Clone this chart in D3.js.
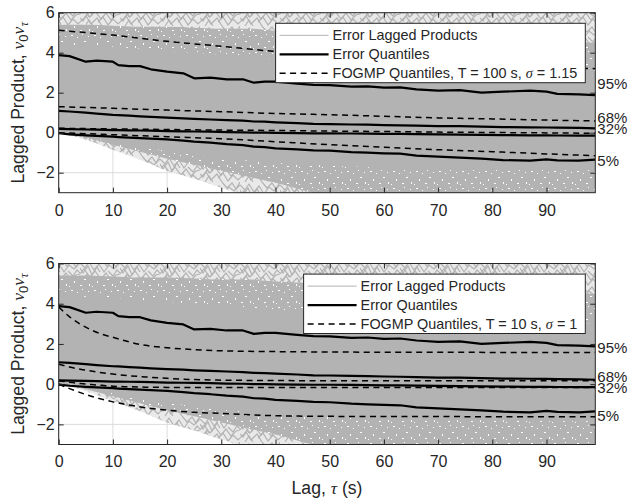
<!DOCTYPE html>
<html>
<head>
<meta charset="utf-8">
<script src="https://cdn.jsdelivr.net/npm/d3@7"></script>
<style>
  body { margin: 0; background: #fff; }
  text { font-family: "Liberation Sans", Arial, Helvetica, sans-serif; fill: #262626; }
  .greek { font-family: "Liberation Serif", "Times New Roman", serif; font-style: italic; }
</style>
</head>
<body>
<svg id="chart" width="629" height="499"></svg>
<script>
// x ticks / y ticks
const xTicks = [0, 10, 20, 30, 40, 50, 60, 70, 80, 90];
const yTicks = [-2, 0, 2, 4, 6];

// error quantiles (same for both panels)
const qLags = [0, 2, 5, 7, 10, 11, 13, 15, 17, 20, 23, 25, 28, 31, 34, 36, 38, 40, 44, 47, 50, 54, 57, 60, 63, 66, 70, 74, 78, 82, 87, 90, 92, 96, 99];
const q95 = [3.88, 3.83, 3.55, 3.60, 3.55, 3.38, 3.33, 3.33, 3.17, 3.05, 2.97, 2.72, 2.75, 2.67, 2.67, 2.50, 2.55, 2.55, 2.45, 2.39, 2.38, 2.30, 2.32, 2.25, 2.27, 2.17, 2.10, 2.13, 2.00, 2.05, 2.10, 2.05, 1.94, 1.92, 1.88];
const q68 = [1.09, 1.06, 1.00, 0.95, 0.89, 0.88, 0.85, 0.82, 0.79, 0.75, 0.72, 0.69, 0.66, 0.63, 0.60, 0.56, 0.55, 0.52, 0.48, 0.44, 0.43, 0.41, 0.40, 0.38, 0.37, 0.35, 0.33, 0.33, 0.30, 0.28, 0.27, 0.26, 0.25, 0.24, 0.22];
const q32 = [0.19, 0.18, 0.16, 0.15, 0.13, 0.13, 0.12, 0.11, 0.10, 0.08, 0.07, 0.06, 0.05, 0.03, 0.02, 0.00, 0.00, -0.01, -0.02, -0.03, -0.03, -0.04, -0.05, -0.06, -0.06, -0.07, -0.08, -0.10, -0.11, -0.12, -0.13, -0.13, -0.14, -0.15, -0.15];
const q05 = [-0.02, -0.08, -0.13, -0.16, -0.20, -0.22, -0.25, -0.27, -0.30, -0.33, -0.40, -0.45, -0.50, -0.57, -0.62, -0.70, -0.72, -0.78, -0.83, -0.88, -0.90, -0.97, -1.00, -1.03, -1.05, -1.15, -1.20, -1.25, -1.30, -1.37, -1.40, -1.33, -1.38, -1.40, -1.35];

// FOGMP quantiles, T = 100 s, sigma = 1.15
const fLagsA = [0, 10, 20, 30, 40, 50, 60, 70, 80, 90, 99];
const fA95 = [5.12, 4.88, 4.57, 4.32, 4.06, 3.85, 3.68, 3.52, 3.40, 3.28, 3.20];
const fA68 = [1.30, 1.22, 1.13, 1.05, 0.96, 0.90, 0.82, 0.74, 0.69, 0.63, 0.59];
const fA32 = [0.22, 0.19, 0.16, 0.13, 0.11, 0.08, 0.06, 0.03, 0.01, -0.01, -0.03];
const fA05 = [0.00, -0.10, -0.20, -0.30, -0.45, -0.60, -0.73, -0.85, -0.95, -1.06, -1.15];

// FOGMP quantiles, T = 10 s, sigma = 1
const fLagsB = [0, 2, 4, 6, 8, 10, 13, 16, 20, 25, 30, 40, 50, 60, 70, 80, 90, 99];
const fB95 = [3.84, 3.35, 2.98, 2.70, 2.48, 2.33, 2.10, 1.93, 1.81, 1.72, 1.66, 1.62, 1.60, 1.59, 1.59, 1.58, 1.58, 1.58];
const fB68 = [0.99, 0.85, 0.74, 0.65, 0.57, 0.50, 0.42, 0.36, 0.29, 0.23, 0.20, 0.18, 0.17, 0.17, 0.17, 0.17, 0.17, 0.17];
const fB32 = [0.17, 0.10, 0.03, -0.02, -0.06, -0.10, -0.13, -0.15, -0.16, -0.17, -0.17, -0.17, -0.17, -0.17, -0.17, -0.17, -0.17, -0.17];
const fB05 = [0.00, -0.22, -0.42, -0.60, -0.75, -0.88, -1.04, -1.17, -1.29, -1.40, -1.45, -1.57, -1.60, -1.61, -1.61, -1.62, -1.62, -1.62];

// spread of the error lagged products (envelopes of the grey mass)
const bandLags = [0, 5, 10, 15, 20, 25, 30, 35, 40, 50, 60, 70, 80, 90, 99];
const meshHigh = [6.2, 6.2, 6.2, 6.2, 6.2, 6.2, 6.2, 6.2, 6.2, 6.2, 6.2, 6.2, 6.2, 6.2, 6.2];
const meshLow = [0, -0.35, -0.85, -1.35, -1.9, -2.3, -2.75, -3.1, -3.1, -3.1, -3.1, -3.1, -3.1, -3.1, -3.1];
const speckHigh = [5.4, 5.4, 5.35, 5.3, 5.3, 5.25, 5.2, 5.2, 5.1, 5.0, 4.9, 4.8, 4.7, 4.6, 4.5];
const speckLow = [0, -0.25, -0.6, -0.95, -1.3, -1.6, -1.9, -2.2, -2.5, -3.1, -3.1, -3.1, -3.1, -3.1, -3.1];
const denseHigh = [4.4, 4.35, 4.3, 4.2, 4.1, 4.0, 3.9, 3.8, 3.7, 3.55, 3.4, 3.3, 3.2, 3.1, 3.0];
const denseLow = [0, -0.2, -0.45, -0.7, -0.9, -1.1, -1.25, -1.4, -1.5, -1.65, -1.75, -1.8, -1.8, -1.85, -1.85];

// right-hand quantile labels and where they sit (data units)
const pctLabels = ['95%', '68%', '32%', '5%'];
const pctAtA = [2.47, 0.75, 0.20, -1.37];
const pctAtB = [1.83, 0.40, -0.18, -1.54];

const svg = d3.select('#chart');
const axisColor = '#262626';
const lineGrey = '#b3b3b3';

// textures standing in for the tangle of thin grey traces
const defs = svg.append('defs');
const mesh = defs.append('pattern').attr('id', 'mesh')
    .attr('patternUnits', 'userSpaceOnUse').attr('width', 40).attr('height', 26);
mesh.append('rect').attr('width', 40).attr('height', 26).attr('fill', '#e9e9e9');
[
    'M0,3 L5,8 L9,2 L14,10 L19,4 L24,12 L29,5 L34,9 L40,3',
    'M0,14 L4,9 L10,17 L15,11 L21,19 L26,13 L31,20 L36,15 L40,14',
    'M0,22 L6,16 L11,24 L17,18 L22,26',
    'M22,0 L27,6 L32,1 L36,7 L40,0',
    'M0,8 L3,13 L8,6 L12,15 L17,7 L20,12',
    'M18,22 L23,17 L28,25 L33,19 L38,24 L40,22',
    'M28,11 L33,16 L37,10 L40,13',
    'M5,26 L9,20 L13,26',
    'M0,18 L3,21 L7,14 L9,17'
].forEach(d => mesh.append('path').attr('d', d).attr('fill', 'none').attr('stroke', lineGrey).attr('stroke-width', 1.2));
const speck = defs.append('pattern').attr('id', 'speck')
    .attr('patternUnits', 'userSpaceOnUse').attr('width', 23).attr('height', 17);
speck.append('rect').attr('width', 23).attr('height', 17).attr('fill', lineGrey);
[[2, 1, 2, 1], [8, 3, 1, 1], [5, 9, 1, 2], [15, 7, 2, 1], [0, 14, 1, 1], [19, 2, 1, 1], [11, 13, 2, 1], [20, 12, 1, 2], [13, 0, 1, 1]]
    .forEach(([x, y, w, h]) => speck.append('rect').attr('x', x).attr('y', y).attr('width', w).attr('height', h).attr('fill', '#fff'));

function drawPanel(p) {
    const x = d3.scaleLinear().domain([0, 99]).range([58.7, 595.3]);
    const y = d3.scaleLinear().domain([-3, 6]).range([p.bottom, p.top]);
    const [x0, x1] = x.range();

    const clipId = 'clip' + p.id;
    defs.append('clipPath').attr('id', clipId)
        .append('rect')
        .attr('x', x0).attr('y', p.top)
        .attr('width', x1 - x0).attr('height', p.bottom - p.top);

    const g = svg.append('g');

    // grid
    g.append('g').selectAll('line').data(xTicks).join('line')
        .attr('x1', d => x(d)).attr('x2', d => x(d))
        .attr('y1', p.top).attr('y2', p.bottom)
        .attr('stroke', '#dcdcdc').attr('stroke-width', 1);
    g.append('g').selectAll('line').data(yTicks).join('line')
        .attr('x1', x0).attr('x2', x1)
        .attr('y1', d => y(d)).attr('y2', d => y(d))
        .attr('stroke', '#dcdcdc').attr('stroke-width', 1);

    // grey mass of lagged products
    const plot = g.append('g').attr('clip-path', `url(#${clipId})`);
    const band = (lo, hi) => d3.area()
        .x((d, i) => x(bandLags[i]))
        .y0((d, i) => y(lo[i]))
        .y1((d, i) => y(hi[i]))
        .curve(d3.curveMonotoneX)(bandLags);
    plot.append('path').attr('d', band(meshLow, meshHigh)).attr('fill', 'url(#mesh)');
    plot.append('path').attr('d', band(speckLow, speckHigh)).attr('fill', 'url(#speck)');
    plot.append('path').attr('d', band(denseLow, denseHigh)).attr('fill', lineGrey);

    // FOGMP quantiles (dashed)
    const fline = d3.line()
        .x((d, i) => x(p.fLags[i]))
        .y(d => y(d))
        .curve(d3.curveMonotoneX);
    plot.append('g').selectAll('path').data(p.fog).join('path')
        .attr('d', d => fline(d))
        .attr('fill', 'none')
        .attr('stroke', '#000')
        .attr('stroke-width', 1.5)
        .attr('stroke-dasharray', '6,4.5');

    // error quantiles (solid)
    const qline = d3.line()
        .x((d, i) => x(qLags[i]))
        .y(d => y(d));
    plot.append('g').selectAll('path').data([q95, q68, q32, q05]).join('path')
        .attr('d', d => qline(d))
        .attr('fill', 'none')
        .attr('stroke', '#000')
        .attr('stroke-width', 2.2)
        .attr('stroke-linejoin', 'round');

    // axes
    const xAxis = d3.axisBottom(x).tickValues(xTicks).tickSizeInner(-5).tickSizeOuter(0).tickPadding(11.5);
    const yAxis = d3.axisLeft(y).tickValues(yTicks).tickSizeInner(-5).tickSizeOuter(0).tickPadding(4);
    const xTop = d3.axisTop(x).tickValues(xTicks).tickSizeInner(-5).tickSizeOuter(0).tickFormat('');
    const yRight = d3.axisRight(y).tickValues(yTicks).tickSizeInner(-5).tickSizeOuter(0).tickFormat('');

    const styleAxis = sel => {
        sel.select('.domain').remove();
        sel.selectAll('line').attr('stroke', axisColor);
        sel.selectAll('text').attr('fill', axisColor).style('font-size', '16px');
    };
    svg.append('g').attr('transform', `translate(0,${p.bottom})`).call(xAxis).call(styleAxis);
    svg.append('g').attr('transform', `translate(${x0},0)`).call(yAxis).call(styleAxis);
    svg.append('g').attr('transform', `translate(0,${p.top})`).call(xTop).call(styleAxis);
    svg.append('g').attr('transform', `translate(${x1},0)`).call(yRight).call(styleAxis);

    svg.append('rect')
        .attr('x', x0).attr('y', p.top)
        .attr('width', x1 - x0).attr('height', p.bottom - p.top)
        .attr('fill', 'none').attr('stroke', axisColor).attr('stroke-width', 1);

    // y label
    const yl = svg.append('text')
        .attr('transform', `translate(24,${(p.top + p.bottom) / 2}) rotate(-90)`)
        .attr('text-anchor', 'middle')
        .style('font-size', '17.6px');
    yl.append('tspan').text('Lagged Product, ');
    yl.append('tspan').attr('class', 'greek').text('ν');
    yl.append('tspan').attr('dy', 4).style('font-size', '13px').text('0');
    yl.append('tspan').attr('dy', -4).attr('class', 'greek').text('ν');
    yl.append('tspan').attr('dy', 4).attr('class', 'greek').style('font-size', '13px').text('τ');

    // quantile labels on the right
    svg.append('g').selectAll('text').data(pctLabels).join('text')
        .attr('x', x1 + 2)
        .attr('y', (d, i) => y(p.pctAt[i]))
        .attr('dy', '0.36em')
        .style('font-size', '15px')
        .text(d => d);

    // legend
    const lg = svg.append('g');
    const rowH = 19;
    const sample = 49;
    const items = [
        { type: 'grey', label: ['Error Lagged Products'] },
        { type: 'solid', label: ['Error Quantiles'] },
        { type: 'dash', label: p.legendText }
    ];
    const box = lg.append('rect').attr('fill', '#fff').attr('stroke', axisColor).attr('stroke-width', 1);
    const texts = lg.selectAll('text').data(items).join('text')
        .attr('y', (d, i) => i * rowH)
        .attr('dy', '0.35em')
        .style('font-size', '14.4px');
    texts.each(function (d) {
        const t = d3.select(this);
        d.label.forEach(part => {
            const s = t.append('tspan').text(part.text || part);
            if (part.greek) s.attr('class', 'greek');
        });
    });
    let tw = 0;
    texts.each(function () { tw = Math.max(tw, this.getComputedTextLength()); });
    const lw = 4 + sample + 4 + tw + 8;
    const lx = x1 - 10 - lw;
    const ly = p.top + 10.6;
    const firstRow = ly + 12;
    box.attr('x', lx).attr('y', ly).attr('width', lw).attr('height', rowH * 2 + 21.4);
    texts.attr('x', lx + 4 + sample + 4).attr('transform', `translate(0,${firstRow})`);
    lg.selectAll('line').data(items).join('line')
        .attr('x1', lx + 4).attr('x2', lx + 4 + sample)
        .attr('y1', (d, i) => firstRow + i * rowH).attr('y2', (d, i) => firstRow + i * rowH)
        .attr('stroke', d => d.type === 'grey' ? lineGrey : '#000')
        .attr('stroke-width', d => d.type === 'grey' ? 1 : d.type === 'solid' ? 2.2 : 1.5)
        .attr('stroke-dasharray', d => d.type === 'dash' ? '6,4.5' : null);
}

drawPanel({
    id: 'a', top: 12.7, bottom: 192.7,
    fLags: fLagsA, fog: [fA95, fA68, fA32, fA05], pctAt: pctAtA,
    legendText: ['FOGMP Quantiles, T = 100 s, ', { text: 'σ', greek: true }, ' = 1.15']
});
drawPanel({
    id: 'b', top: 263.5, bottom: 444.5,
    fLags: fLagsB, fog: [fB95, fB68, fB32, fB05], pctAt: pctAtB,
    legendText: ['FOGMP Quantiles, T = 10 s, ', { text: 'σ', greek: true }, ' = 1']
});

// x label
const xl = svg.append('text')
    .attr('x', (58.7 + 595.3) / 2)
    .attr('y', 494)
    .attr('text-anchor', 'middle')
    .style('font-size', '17.6px');
xl.append('tspan').text('Lag, ');
xl.append('tspan').attr('class', 'greek').text('τ');
xl.append('tspan').text(' (s)');
</script>
</body>
</html>
